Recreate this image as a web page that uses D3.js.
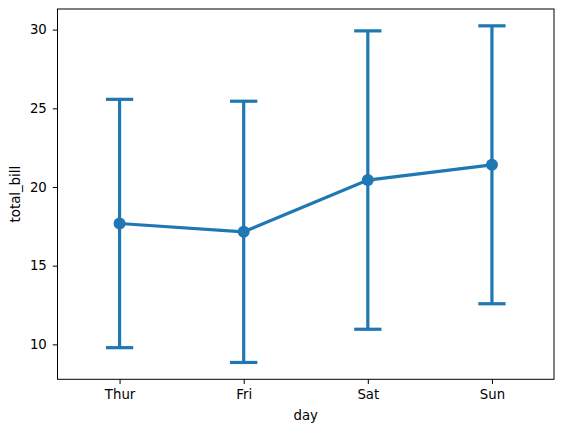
<!DOCTYPE html>
<html lang="en">
  <head>
    <meta charset="utf-8">
    <title>total_bill by day</title>
    <script src="https://d3js.org/d3.v7.min.js"></script>
    <style>
      body { margin: 0; background: #fff; }
      text { font-family: "DejaVu Sans", sans-serif; fill: #000; }
    </style>
  </head>
  <body>
    <div id="chart"></div>
    <script>
      // Data
      const days = ['Thur', 'Fri', 'Sat', 'Sun'];
      const means = [17.68, 17.15, 20.44, 21.41];
      const lows = [9.79, 8.85, 10.96, 12.58];
      const highs = [25.57, 25.45, 29.92, 30.24];
      const yTicks = [10, 15, 20, 25, 30];

      const width = 563, height = 432;
      const margin = {top: 9, right: 9, bottom: 52.7, left: 57.5};
      const color = '#1f77b4';
      const fontSize = '13.3px';

      const svg = d3.select('#chart')
        .append('svg')
        .attr('width', width)
        .attr('height', height);

      const x = d3.scaleLinear()
        .domain([-0.5, days.length - 0.5])
        .range([margin.left, width - margin.right]);

      const y = d3.scaleLinear()
        .domain([7.78, 31.31])
        .range([height - margin.bottom, margin.top]);

      // Axes
      const xAxis = d3.axisBottom(x)
        .tickValues(d3.range(days.length))
        .tickFormat(i => days[i])
        .tickSize(4.7)
        .tickPadding(6);

      const yAxis = d3.axisLeft(y)
        .tickValues(yTicks)
        .tickSize(4.7)
        .tickPadding(6);

      svg.append('g')
        .attr('transform', `translate(0,${height - margin.bottom})`)
        .call(xAxis)
        .call(g => g.select('.domain').remove())
        .selectAll('text').style('font-size', fontSize);

      svg.append('g')
        .attr('transform', `translate(${margin.left},0)`)
        .call(yAxis)
        .call(g => g.select('.domain').remove())
        .selectAll('text').style('font-size', fontSize);

      svg.selectAll('.tick line').attr('stroke', '#000').attr('stroke-width', 1);

      // Frame
      svg.append('rect')
        .attr('x', margin.left)
        .attr('y', margin.top)
        .attr('width', width - margin.left - margin.right)
        .attr('height', height - margin.top - margin.bottom)
        .attr('fill', 'none')
        .attr('stroke', '#000')
        .attr('stroke-width', 1);

      // Labels
      svg.append('text')
        .attr('x', (margin.left + width - margin.right) / 2)
        .attr('y', 420)
        .attr('text-anchor', 'middle')
        .style('font-size', fontSize)
        .text('day');

      svg.append('text')
        .attr('transform', `translate(20,${(margin.top + height - margin.bottom) / 2}) rotate(-90)`)
        .attr('text-anchor', 'middle')
        .style('font-size', fontSize)
        .text('total_bill');

      // Error bars
      const cap = 0.11;
      const bars = svg.append('g')
        .attr('stroke', color)
        .attr('stroke-width', 3.2)
        .attr('fill', 'none');

      days.forEach((d, i) => {
        bars.append('line')
          .attr('x1', x(i)).attr('x2', x(i))
          .attr('y1', y(lows[i])).attr('y2', y(highs[i]));
        bars.append('line')
          .attr('x1', x(i - cap)).attr('x2', x(i + cap))
          .attr('y1', y(lows[i])).attr('y2', y(lows[i]));
        bars.append('line')
          .attr('x1', x(i - cap)).attr('x2', x(i + cap))
          .attr('y1', y(highs[i])).attr('y2', y(highs[i]));
      });

      // Mean line + points
      const line = d3.line()
        .x((d, i) => x(i))
        .y(d => y(d));

      svg.append('path')
        .datum(means)
        .attr('d', line)
        .attr('fill', 'none')
        .attr('stroke', color)
        .attr('stroke-width', 3.2);

      svg.selectAll('circle')
        .data(means)
        .enter()
          .append('circle')
          .attr('cx', (d, i) => x(i))
          .attr('cy', d => y(d))
          .attr('r', 6)
          .attr('fill', color);
    </script>
  </body>
</html>
